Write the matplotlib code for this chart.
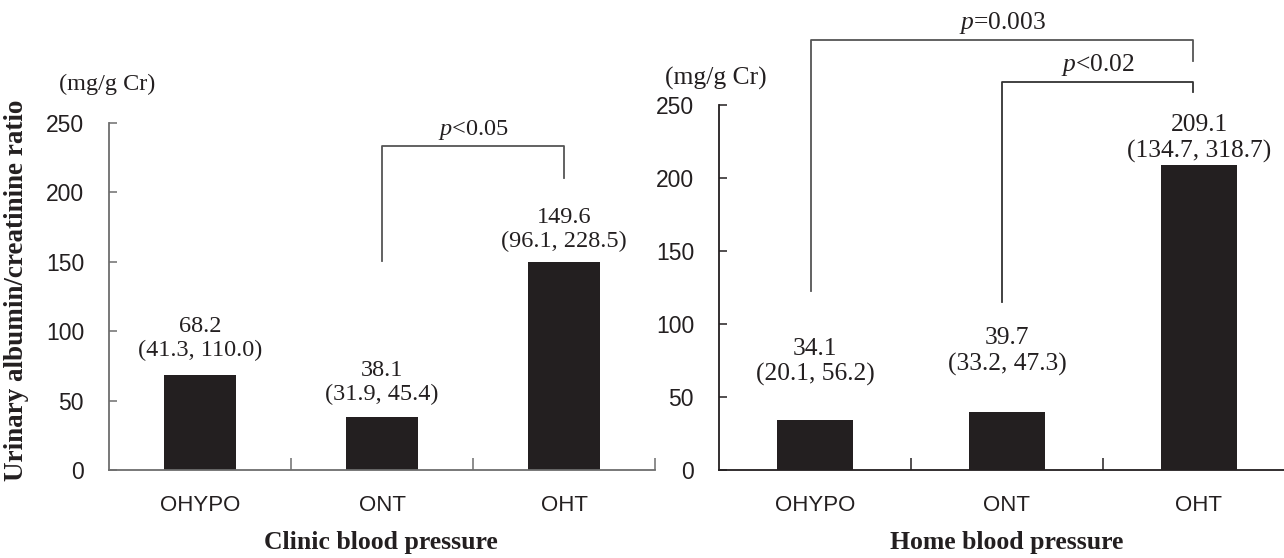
import matplotlib
matplotlib.use("Agg")
import matplotlib.pyplot as plt

plt.rcParams['mathtext.fontset'] = 'custom'
plt.rcParams['mathtext.rm'] = 'Liberation Serif'
plt.rcParams['mathtext.it'] = 'Liberation Serif:italic'

# 数据
groups = ['OHYPO', 'ONT', 'OHT']
clinic_med = [68.2, 38.1, 149.6]
clinic_ci = ['(41.3, 110.0)', '(31.9, 45.4)', '(96.1, 228.5)']
home_med = [34.1, 39.7, 209.1]
home_ci = ['(20.1, 56.2)', '(33.2, 47.3)', '(134.7, 318.7)']
yticks = [0, 50, 100, 150, 200, 250]

bar_c = '#231f20'
tick_font = 'Liberation Sans'
serif = 'Liberation Serif'

fig = plt.figure(figsize=(12.84, 5.58), dpi=100)
ax1 = fig.add_axes([109 / 1284, 88 / 558, 546 / 1284, 347 / 558])
ax2 = fig.add_axes([719 / 1284, 88 / 558, 576 / 1284, 365 / 558])


def setup(ax, spine_c):
    x = range(len(groups))
    ax.set_xlim(-0.5, 2.5)
    ax.set_ylim(0, 250)
    for s in ['top', 'right']:
        ax.spines[s].set_visible(False)
    for s in ['left', 'bottom']:
        ax.spines[s].set_color(spine_c)
        ax.spines[s].set_linewidth(1.3)
    ax.set_yticks(yticks)
    ax.set_yticklabels([str(v) for v in yticks], fontsize=16.5, family=tick_font, color='#231f20')
    ax.tick_params(axis='y', direction='in', length=6, width=1.1, color=spine_c, pad=18)
    ax.set_xticks(list(x))
    ax.set_xticklabels(groups, fontsize=16, family=tick_font, color='#231f20')
    ax.tick_params(axis='x', which='major', length=0, pad=18)
    ax.set_xticks([0.5, 1.5, 2.5], minor=True)
    ax.tick_params(axis='x', which='minor', direction='in', length=9, width=1.1, color=spine_c)
    return x


def bracket(ax, x0, x1, ytop, y0, y1, label, fs, color):
    ax.plot([x0, x0, x1, x1], [y0, ytop, ytop, y1], color=color, lw=1.3, clip_on=False)
    ax.annotate(label, xy=((x0 + x1) / 2, ytop), xytext=(0, 4), textcoords='offset pixels',
                ha='center', va='bottom', fontsize=fs, family=serif, color='#231f20',
                annotation_clip=False)


# 左图 Clinic
x = setup(ax1, '#6d6d6d')
ax1.bar(x, clinic_med, width=0.4, color=bar_c)
offs1 = [14, 12, 10]
for i, (m, ci) in enumerate(zip(clinic_med, clinic_ci)):
    ax1.annotate(f'{m}\n{ci}', xy=(i, m), xytext=(0, offs1[i]), textcoords='offset pixels',
                 ha='center', va='bottom', fontsize=17.5, family=serif, color='#231f20',
                 linespacing=1.2)
bracket(ax1, 1.0, 2.0, 233.5, 150.5, 210.5, '$p$<0.05', 17.5, '#555555')

# 右图 Home
x = setup(ax2, '#231f20')
ax2.bar(x, home_med, width=0.4, color=bar_c)
offs2 = [34, 36, 2]
for i, (m, ci) in enumerate(zip(home_med, home_ci)):
    ax2.annotate(f'{m}\n{ci}', xy=(i, m), xytext=(0, offs2[i]), textcoords='offset pixels',
                 ha='center', va='bottom', fontsize=18.4, family=serif, color='#231f20',
                 linespacing=1.2)
bracket(ax2, -0.02, 1.97, 294.5, 122.5, 280, '$p$=0.003', 18.4, '#555555')
bracket(ax2, 0.975, 1.97, 265.5, 115, 259, '$p$<0.02', 18.4, '#333333')

# 标签
fig.text(381 / 1284, 1 - 543 / 558, 'Clinic blood pressure', ha='center', va='center',
         fontsize=18.5, family=serif, fontweight='bold', color='#231f20')
fig.text(1007 / 1284, 1 - 543 / 558, 'Home blood pressure', ha='center', va='center',
         fontsize=18.5, family=serif, fontweight='bold', color='#231f20')
fig.text(107 / 1284, 1 - 84 / 558, '(mg/g Cr)', ha='center', va='center', fontsize=17.5,
         family=serif, color='#231f20')
fig.text(716 / 1284, 1 - 78 / 558, '(mg/g Cr)', ha='center', va='center', fontsize=18.4,
         family=serif, color='#231f20')
fig.text(17 / 1284, 1 - 290 / 558, 'Urinary albumin/creatinine ratio', rotation=90,
         ha='center', va='center', fontsize=19.5, family=serif, fontweight='bold', color='#231f20')

fig.savefig('out.png', dpi=100)
